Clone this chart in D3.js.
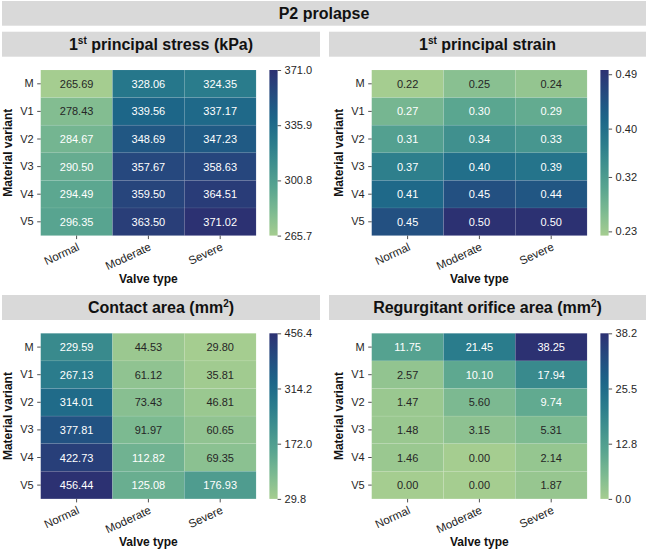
<!DOCTYPE html>
<html>
<head>
<meta charset="utf-8">
<script src="https://cdn.jsdelivr.net/npm/d3@7/dist/d3.min.js"></script>
<style>
  body { margin: 0; background: #fff; }
  text { font-family: "Liberation Sans", Arial, sans-serif; }
</style>
</head>
<body>
<svg id="chart"></svg>
<script>
// Categories
const valveTypes = ['Normal', 'Moderate', 'Severe'];
const variants = ['M', 'V1', 'V2', 'V3', 'V4', 'V5'];

// Values, one row per material variant
const stressValues = [
  [265.69, 328.06, 324.35],
  [278.43, 339.56, 337.17],
  [284.67, 348.69, 347.23],
  [290.50, 357.67, 358.63],
  [294.49, 359.50, 364.51],
  [296.35, 363.50, 371.02]
];
const strainValues = [
  [0.22, 0.25, 0.24],
  [0.27, 0.30, 0.29],
  [0.31, 0.34, 0.33],
  [0.37, 0.40, 0.39],
  [0.41, 0.45, 0.44],
  [0.45, 0.50, 0.50]
];
const contactValues = [
  [229.59, 44.53, 29.80],
  [267.13, 61.12, 35.81],
  [314.01, 73.43, 46.81],
  [377.81, 91.97, 60.65],
  [422.73, 112.82, 69.35],
  [456.44, 125.08, 176.93]
];
const roaValues = [
  [11.75, 21.45, 38.25],
  [2.57, 10.10, 17.94],
  [1.47, 5.60, 9.74],
  [1.48, 3.15, 5.31],
  [1.46, 0.00, 2.14],
  [0.00, 0.00, 1.87]
];

// Colour bar ranges and ticks
const stressDomain = [265.69, 371.02];
const strainDomain = [0.223, 0.497];
const contactDomain = [29.80, 456.44];
const roaDomain = [0.00, 38.25];

const stressTicks = [265.69, 300.80, 335.91, 371.02];
const stressTickLabels = ['265.7', '300.8', '335.9', '371.0'];
const strainTicks = [0.23, 0.32, 0.40, 0.49];
const strainTickLabels = ['0.23', '0.32', '0.40', '0.49'];
const contactTicks = [29.80, 172.01, 314.23, 456.44];
const contactTickLabels = ['29.8', '172.0', '314.2', '456.4'];
const roaTicks = [0.00, 12.75, 25.50, 38.25];
const roaTickLabels = ['0.0', '12.8', '25.5', '38.2'];

// seaborn "crest" colormap, approximated by stops
const crestColors = ['#a5cd90', '#7dba91', '#59a590', '#40908e', '#287a8c', '#1c6488', '#254b7f', '#2c3172'];

const width = 648;
const height = 549;

const svg = d3.select('#chart')
  .attr('width', width)
  .attr('height', height);

const crest = d3.scaleLinear()
  .domain(crestColors.map((c, i) => i / (crestColors.length - 1)))
  .range(crestColors)
  .interpolate(d3.interpolateRgb)
  .clamp(true);

// seaborn picks dark or white annotation text from relative luminance
function luminance(color) {
  const c = d3.rgb(color);
  const lin = v => {
    v = v / 255;
    return v <= 0.03928 ? v / 12.92 : Math.pow((v + 0.055) / 1.055, 2.4);
  };
  return 0.2126 * lin(c.r) + 0.7152 * lin(c.g) + 0.0722 * lin(c.b);
}

const panels = [
  { title: [['1', ''], ['st', 'sup'], [' principal stress (kPa)', '']], values: stressValues, domain: stressDomain, ticks: stressTicks, tickLabels: stressTickLabels, col: 0, row: 0 },
  { title: [['1', ''], ['st', 'sup'], [' principal strain', '']], values: strainValues, domain: strainDomain, ticks: strainTicks, tickLabels: strainTickLabels, col: 1, row: 0 },
  { title: [['Contact area (mm', ''], ['2', 'sup'], [')', '']], values: contactValues, domain: contactDomain, ticks: contactTicks, tickLabels: contactTickLabels, col: 0, row: 1 },
  { title: [['Regurgitant orifice area (mm', ''], ['2', 'sup'], [')', '']], values: roaValues, domain: roaDomain, ticks: roaTicks, tickLabels: roaTickLabels, col: 1, row: 1 }
];

const bannerFill = '#d9d9d9';
const textColor = '#262626';

// Main title banner
svg.append('rect')
  .attr('x', 2).attr('y', 1)
  .attr('width', 644).attr('height', 24.7)
  .attr('fill', bannerFill);

svg.append('text')
  .attr('x', 324).attr('y', 19)
  .attr('text-anchor', 'middle')
  .style('font-size', '16px')
  .style('font-weight', 'bold')
  .attr('fill', '#111')
  .text('P2 prolapse');

const defs = svg.append('defs');
const gradient = defs.append('linearGradient')
  .attr('id', 'crest-grad')
  .attr('x1', 0).attr('y1', 1)
  .attr('x2', 0).attr('y2', 0);
d3.range(0, 1.0001, 0.05).forEach(t => {
  gradient.append('stop')
    .attr('offset', t)
    .attr('stop-color', crest(t));
});

panels.forEach(p => {
  const ox = p.col * 331;
  const oy = p.row * 263.3;
  const bannerX = p.col === 0 ? 2 : 329;
  const bannerW = p.col === 0 ? 318 : 317;

  const g = svg.append('g');

  // Panel title banner
  g.append('rect')
    .attr('x', bannerX).attr('y', 31.7 + oy)
    .attr('width', bannerW).attr('height', 25)
    .attr('fill', bannerFill);

  const title = g.append('text')
    .attr('x', bannerX + bannerW / 2)
    .attr('y', 50 + oy)
    .attr('text-anchor', 'middle')
    .style('font-size', '16px')
    .style('font-weight', 'bold')
    .attr('fill', '#111');

  let raised = false;
  p.title.forEach(([txt, kind]) => {
    const ts = title.append('tspan').text(txt);
    if (kind === 'sup') {
      ts.style('font-size', '10px').attr('dy', -6);
      raised = true;
    } else if (raised) {
      ts.attr('dy', 6);
      raised = false;
    }
  });

  // Heatmap area
  const hx = 40.7 + ox;
  const hy = 70 + oy;
  const hw = 215.4;
  const hh = 165.6;

  const x = d3.scaleBand().domain(valveTypes).range([hx, hx + hw]);
  const y = d3.scaleBand().domain(variants).range([hy, hy + hh]);

  const cells = [];
  p.values.forEach((rowVals, i) => {
    rowVals.forEach((v, j) => {
      cells.push({ variant: variants[i], valve: valveTypes[j], value: v });
    });
  });

  const norm = v => (v - p.domain[0]) / (p.domain[1] - p.domain[0]);

  g.append('g')
    .selectAll('rect')
    .data(cells)
    .enter().append('rect')
    .attr('x', d => x(d.valve))
    .attr('y', d => y(d.variant))
    .attr('width', x.bandwidth())
    .attr('height', y.bandwidth())
    .attr('fill', d => crest(norm(d.value)))
    .attr('stroke', 'rgba(255,255,255,0.12)')
    .attr('stroke-width', 0.6);

  g.append('g')
    .selectAll('text')
    .data(cells)
    .enter().append('text')
    .attr('x', d => x(d.valve) + x.bandwidth() / 2)
    .attr('y', d => y(d.variant) + y.bandwidth() / 2)
    .attr('text-anchor', 'middle')
    .attr('dominant-baseline', 'central')
    .style('font-size', '11px')
    .attr('fill', d => luminance(crest(norm(d.value))) > 0.408 ? textColor : '#ffffff')
    .text(d => d.value.toFixed(2));

  // Axes
  const yAxis = g.append('g')
    .attr('transform', `translate(${hx},0)`)
    .call(d3.axisLeft(y).tickSize(3.5).tickPadding(3.5));
  yAxis.select('.domain').remove();
  yAxis.selectAll('line').attr('stroke', textColor).attr('stroke-width', 0.8);
  yAxis.selectAll('text')
    .style('font-size', '11px')
    .style('font-family', '"Liberation Sans", Arial, sans-serif')
    .attr('fill', textColor);

  const xAxis = g.append('g')
    .attr('transform', `translate(0,${hy + hh})`)
    .call(d3.axisBottom(x).tickSize(3.5).tickPadding(3));
  xAxis.select('.domain').remove();
  xAxis.selectAll('line').attr('stroke', textColor).attr('stroke-width', 0.8);
  xAxis.selectAll('text')
    .style('font-size', '11.5px')
    .style('font-family', '"Liberation Sans", Arial, sans-serif')
    .attr('fill', textColor)
    .attr('text-anchor', 'end')
    .attr('x', 0)
    .attr('y', 0)
    .attr('dy', 0)
    .attr('transform', 'translate(3.5,14) rotate(-25)');

  g.append('text')
    .attr('x', hx + hw / 2)
    .attr('y', hy + hh + 47)
    .attr('text-anchor', 'middle')
    .style('font-size', '12px')
    .style('font-weight', 'bold')
    .attr('fill', '#111')
    .text('Valve type');

  g.append('text')
    .attr('transform', `translate(${12 + ox},${hy + hh / 2}) rotate(-90)`)
    .attr('text-anchor', 'middle')
    .style('font-size', '12px')
    .style('font-weight', 'bold')
    .attr('fill', '#111')
    .text('Material variant');

  // Colour bar
  const cbx = hx + hw + 13.3;
  const cbw = 8.2;
  const cb = d3.scaleLinear().domain(p.domain).range([hy + hh, hy]);

  g.append('rect')
    .attr('x', cbx).attr('y', hy)
    .attr('width', cbw).attr('height', hh)
    .attr('fill', 'url(#crest-grad)');

  const cbAxis = g.append('g')
    .attr('transform', `translate(${cbx + cbw},0)`)
    .call(d3.axisRight(cb)
      .tickValues(p.ticks)
      .tickFormat((d, i) => p.tickLabels[i])
      .tickSize(3.5)
      .tickPadding(3.5));
  cbAxis.select('.domain').remove();
  cbAxis.selectAll('line').attr('stroke', textColor).attr('stroke-width', 0.8);
  cbAxis.selectAll('text')
    .style('font-size', '11px')
    .style('font-family', '"Liberation Sans", Arial, sans-serif')
    .attr('fill', textColor);
});
</script>
</body>
</html>
